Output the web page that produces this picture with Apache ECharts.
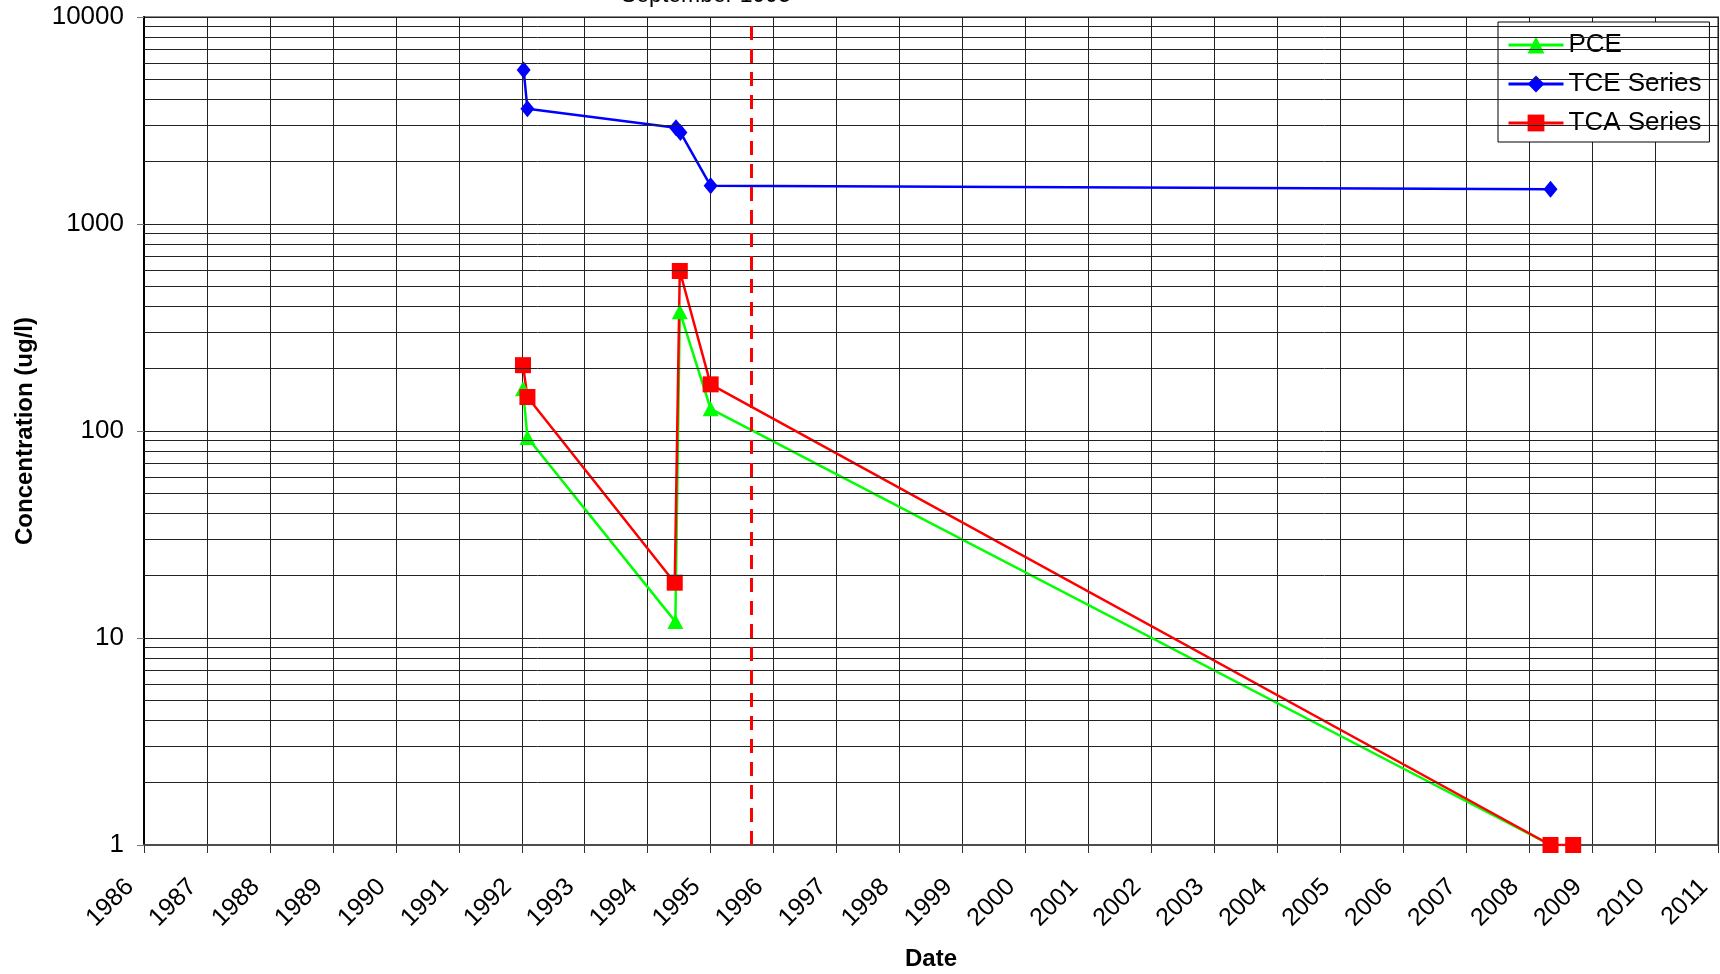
<!DOCTYPE html>
<html>
<head>
<meta charset="utf-8">
<script src="https://cdn.jsdelivr.net/npm/echarts@6/dist/echarts.min.js"></script>
<style>
html,body{margin:0;padding:0;background:#fff;}
#chart{width:1720px;height:974px;}
</style>
</head>
<body>
<div id="chart"></div>
<script>
// ---- data ----
const seriesNames = ['PCE', 'TCE Series', 'TCA Series'];
const pceDates  = [1992.02, 1992.09, 1994.44, 1994.51, 1995.00, 2008.34];
const pceValues = [160, 93, 12, 377, 128, 1];
const tceDates  = [1992.03, 1992.09, 1994.45, 1994.52, 1995.00, 2008.34];
const tceValues = [5550, 3600, 2920, 2770, 1530, 1470];
const tcaDates  = [1992.02, 1992.09, 1994.43, 1994.51, 1995.00, 2008.34, 2008.70];
const tcaValues = [208, 146, 18.5, 593, 168, 1, 1];
const yearRange = [1986, 2011];
const yTickLabels = [1, 10, 100, 1000, 10000];
const yGridValues = [2,3,4,5,6,7,8,9,20,30,40,50,60,70,80,90,200,300,400,500,600,700,800,900,2000,3000,4000,5000,6000,7000,8000,9000];
const markerDate = 1995.64;
const markerLabel = 'September 1995';
const xTitle = 'Date';
const yTitle = 'Concentration (ug/l)';

const FONT = "'Liberation Sans', Arial, sans-serif";
const pairs = (xs, ys) => xs.map((x, i) => [x, ys[i]]);

const chart = echarts.init(document.getElementById('chart'), null, {renderer: 'canvas'});
chart.setOption({
  animation: false,
  backgroundColor: '#fff',
  grid: {left: 144, right: 2, top: 17, bottom: 129, containLabel: false, outerBoundsMode: 'none',
         show: true, borderColor: '#8a8a8a', borderWidth: 2, backgroundColor: 'transparent'},
  legend: {
    data: seriesNames,
    orient: 'vertical',
    left: 1498, top: 22,
    padding: [10, 8, 6, 9],
    itemGap: 13,
    itemWidth: 55, itemHeight: 21,
    backgroundColor: '#fff',
    borderColor: '#000', borderWidth: 1,
    lineStyle: {width: 3},
    textStyle: {fontFamily: FONT, fontSize: 26, color: '#000'}
  },
  xAxis: {
    type: 'value', min: yearRange[0], max: yearRange[1], interval: 1,
    axisLine: {show: true, onZero: false, lineStyle: {color: '#4d4d4d', width: 2}},
    axisTick: {show: true, inside: false, length: 8, lineStyle: {color: '#333', width: 1}},
    axisLabel: {rotate: 45, margin: 24, padding: [0, 20, 0, 0], fontFamily: FONT, fontSize: 25, color: '#000', formatter: v => String(v)},
    splitLine: {show: true, lineStyle: {color: '#222', width: 1}},
    name: xTitle, nameLocation: 'middle', nameGap: 102,
    nameTextStyle: {fontFamily: FONT, fontSize: 24, fontWeight: 'bold', color: '#000'}
  },
  yAxis: {
    type: 'log', logBase: 10, min: yTickLabels[0], max: yTickLabels[yTickLabels.length - 1],
    axisLine: {show: true, onZero: false, lineStyle: {color: '#000', width: 2}},
    axisTick: {show: true, inside: false, length: 7, lineStyle: {color: '#777', width: 1}},
    axisLabel: {margin: 20, fontFamily: FONT, fontSize: 26, color: '#000', formatter: v => String(v)},
    splitLine: {show: true, lineStyle: {color: '#222', width: 1}},
    name: yTitle, nameLocation: 'middle', nameGap: 107,
    nameTextStyle: {fontFamily: FONT, fontSize: 24, fontWeight: 'bold', color: '#000'}
  },
  graphic: [{
    type: 'text', x: 706, y: -4, silent: true,
    style: {text: markerLabel, fontFamily: FONT, fontSize: 23, fill: '#000', align: 'center', verticalAlign: 'middle'}
  }],
  series: [
    {
      name: 'grid', type: 'line', data: [], silent: true, legendHoverLink: false,
      markLine: {
        silent: true, symbol: 'none', label: {show: false},
        lineStyle: {color: '#222', width: 1, type: 'solid'},
        data: yGridValues.map(v => ({yAxis: v}))
      }
    },
    {
      name: seriesNames[0], type: 'line', data: pairs(pceDates, pceValues),
      symbol: 'triangle', symbolSize: [16, 15],
      lineStyle: {color: '#00ff00', width: 2.5}, itemStyle: {color: '#00ff00'}
    },
    {
      name: seriesNames[1], type: 'line', data: pairs(tceDates, tceValues),
      symbol: 'diamond', symbolSize: [14, 17],
      lineStyle: {color: '#0000ff', width: 2.5}, itemStyle: {color: '#0000ff'}
    },
    {
      name: seriesNames[2], type: 'line', data: pairs(tcaDates, tcaValues),
      symbol: 'rect', symbolSize: 16,
      lineStyle: {color: '#ff0000', width: 2.5}, itemStyle: {color: '#ff0000'},
      markLine: {
        silent: true, symbol: 'none', label: {show: false},
        lineStyle: {color: '#ff0000', width: 3, type: [14, 9]},
        data: [{xAxis: markerDate}]
      }
    }
  ]
});
</script>
</body>
</html>
